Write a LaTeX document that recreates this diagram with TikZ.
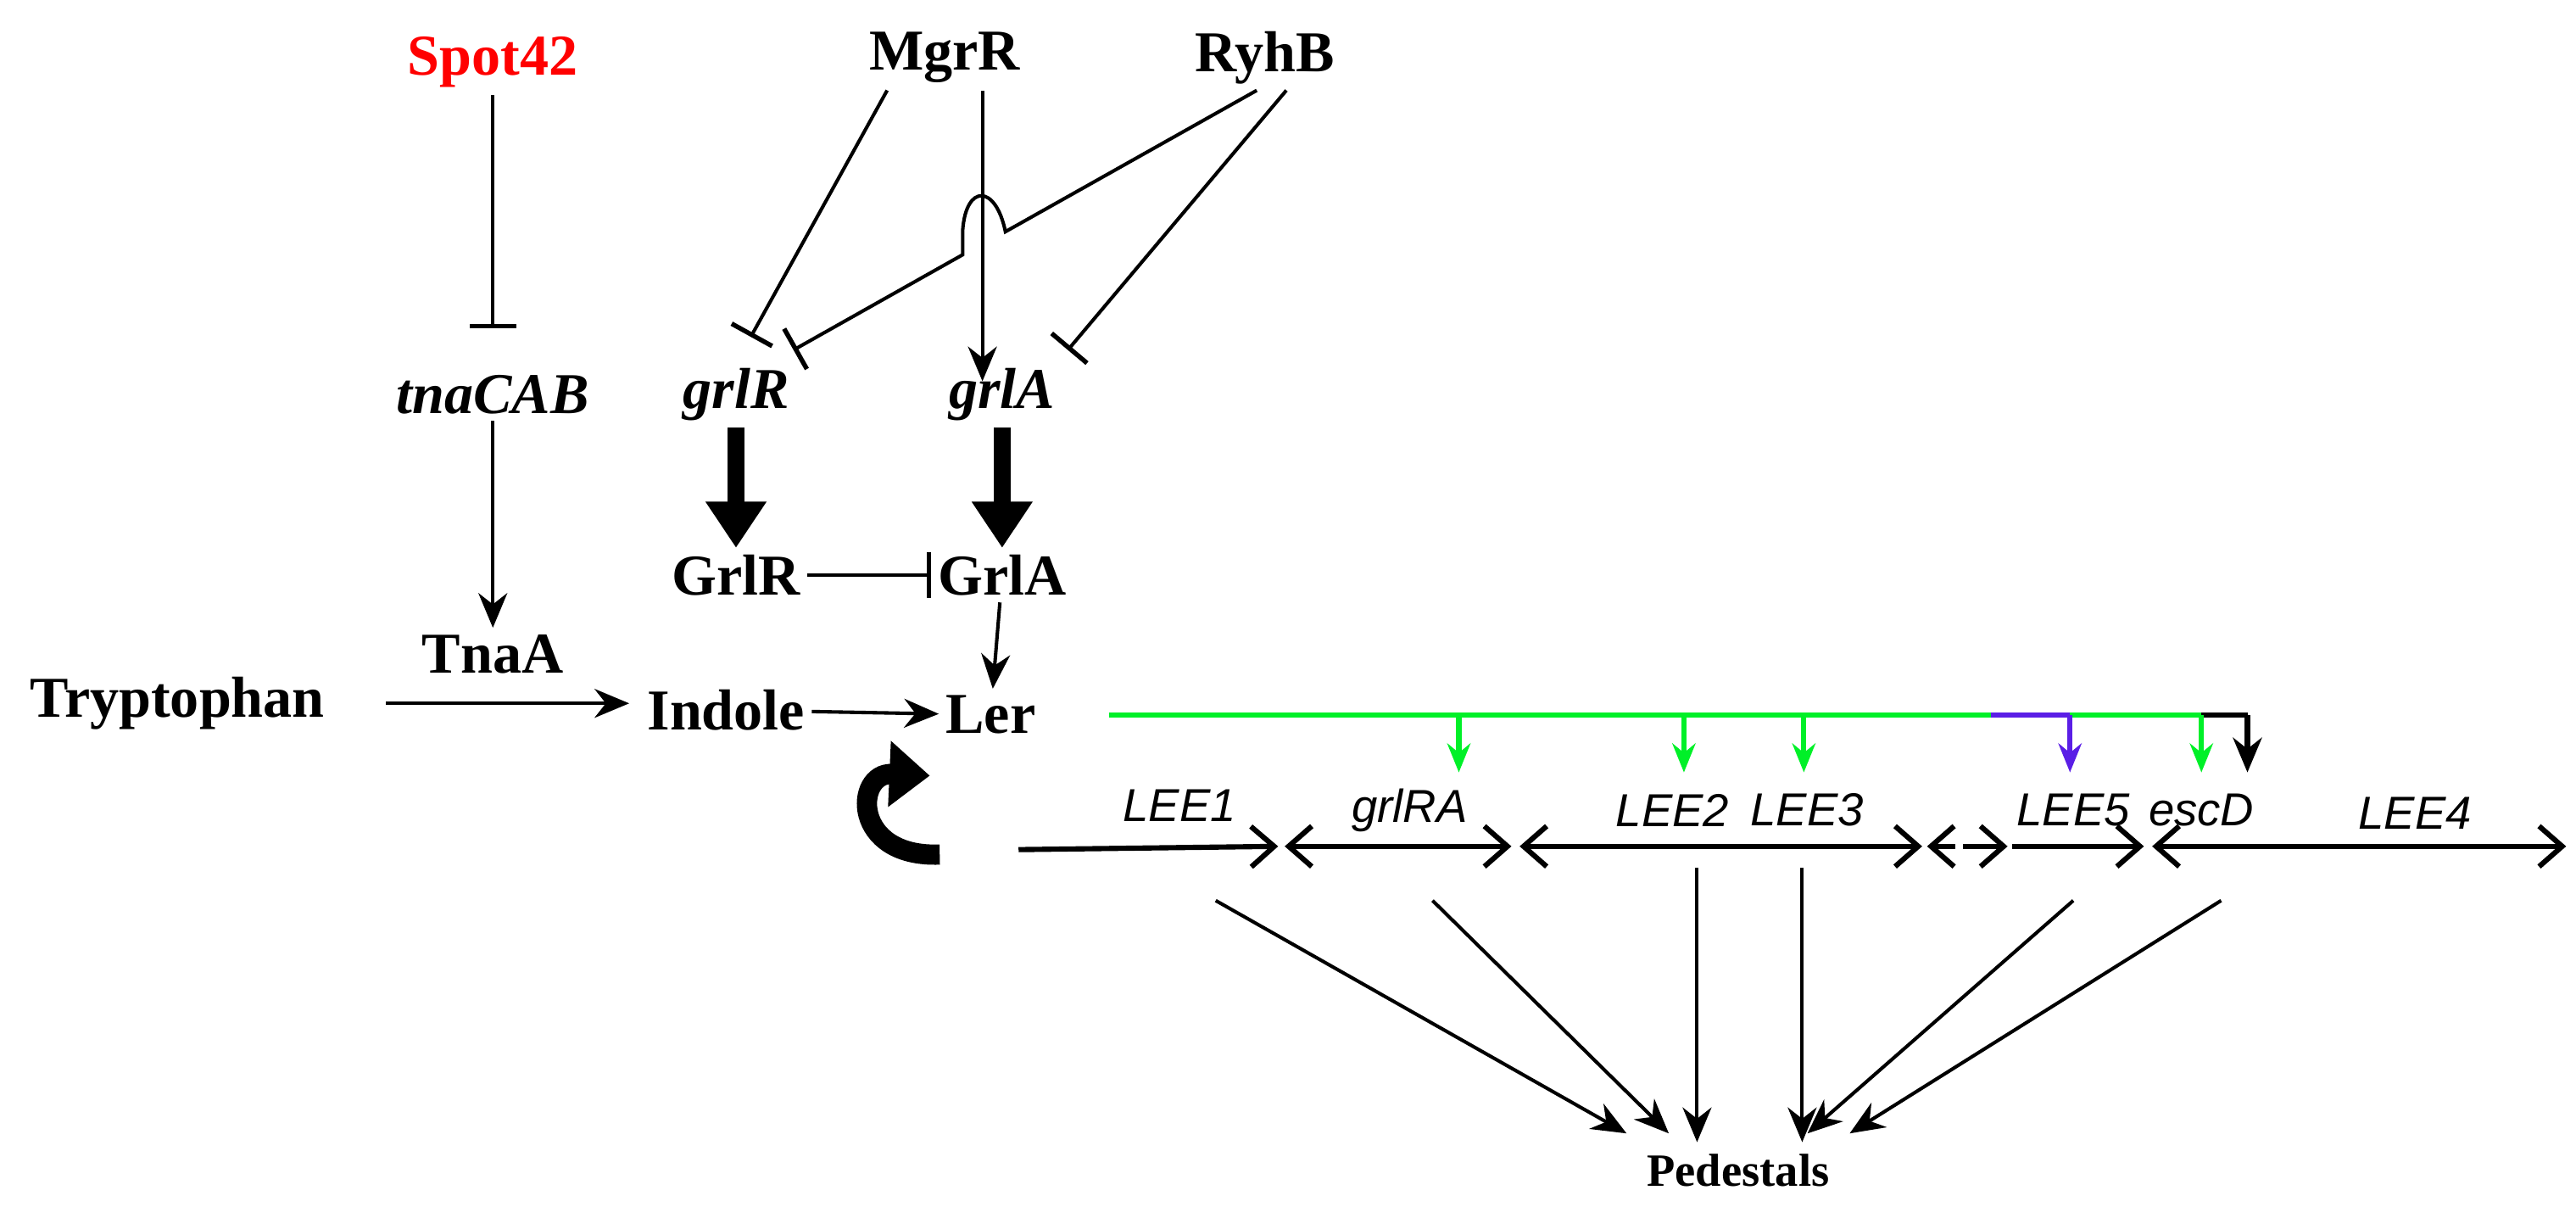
\documentclass[tikz,border=0pt]{standalone}
\usepackage{fontspec}
\setmainfont{Liberation Serif}
\newfontfamily\genefont{Liberation Sans}
\usetikzlibrary{arrows.meta}
\tikzset{
  lbl/.style={font=\fontsize{10}{12}\selectfont\bfseries, inner sep=1pt},
  gene/.style={font=\fontsize{10}{12}\selectfont\bfseries\itshape, inner sep=1pt},
  lee/.style={font=\genefont\fontsize{8}{10}\selectfont\itshape, inner sep=1pt},
  act/.style={line width=0.6pt, -{Stealth[length=6pt,width=5pt]}},
  inh/.style={line width=0.6pt, -{Bar[width=8pt,line width=0.8pt]}},
  fat/.style={line width=3pt, -{Triangle[length=8pt,width=10pt]}},
  seg/.style={line width=0.9pt},
  tip/.tip={Straight Barb[length=4pt,width=7pt]},
  grn/.style={draw={rgb,255:red,0;green,240;blue,40}, line width=0.9pt},
  gact/.style={grn, -{Stealth[length=5pt,width=4pt]}}
}
\begin{document}
\begin{tikzpicture}[x=0.01cm,y=-0.01cm]
\useasboundingbox (0,0) rectangle (1568,734);
% regulators
\node[lbl, text=red] (spot) at (300,38) {Spot42};
\node[lbl] (mgrr) at (575,35) {MgrR};
\node[lbl] (ryhb) at (770,35) {RyhB};
\node[gene] (tnacab) at (300,240) {tnaCAB};
\node[gene] (grlr) at (448,240) {grlR};
\node[gene] (grla) at (610,240) {grlA};
\node[lbl] (GrlR) at (448,350) {GrlR};
\node[lbl] (GrlA) at (610,350) {GrlA};
\node[lbl] (tnaa) at (300,398) {TnaA};
\node[lbl] (trp) at (108,428) {Tryptophan};
\node[lbl] (ind) at (442,432) {Indole};
\node[lbl] (ler) at (603,435) {Ler};
\node[font=\fontsize{8}{10}\selectfont\bfseries] (ped) at (1058,712) {Pedestals};

\coordinate (s1) at (300,200);
\draw[inh] (spot) -- (s1);
\coordinate (m1) at (540,55); \coordinate (m2) at (457,205);
\draw[inh] (m1) -- (m2);
\coordinate (m3) at (598,55); \coordinate (m4) at (598,232);
\draw[act] (m3) -- (m4);
\coordinate (r1) at (765,55); \coordinate (r2) at (483,213);
\draw[inh] (r1) -- (612,141) .. controls (606,112) and (588,112) .. (586,140) -- (586,155) -- (r2);
\coordinate (r3) at (783,55); \coordinate (r4) at (650,213);
\draw[inh] (r3) -- (r4);

\draw[fat] (grlr) -- (GrlR);
\draw[fat] (grla) -- (GrlA);
\draw[inh] (GrlR) -- (GrlA);
\draw[act] (tnacab) -- (tnaa.north);
\coordinate (t1) at (235,428); \coordinate (t2) at (383,428);
\draw[act] (t1) -- (t2);
\draw[act] (ind) -- (ler);
\draw[act] (GrlA) -- (ler);

% curved arrow
\coordinate (c1) at (572,520); \coordinate (c2) at (566,472);
\draw[line width=3.5pt, -{Triangle[length=7pt,width=11pt]}] (c1) .. controls (518,522) and (520,470) .. (c2);

% Ler regulation lines
\coordinate (g0) at (675,435);
\coordinate (g1) at (1340,435);
\draw[grn] (g0) -- (g1);
\draw[line width=0.9pt] (g1) -- (1368,435);
\draw[act, line width=0.9pt] (1368,435) -- (1368,470);
\draw[draw={rgb,255:red,90;green,30;blue,230}, line width=0.9pt] (1212,435) -- (1260,435);
\draw[draw={rgb,255:red,90;green,30;blue,230}, line width=0.9pt, -{Stealth[length=5pt,width=4pt]}] (1260,435) -- (1260,470);
\foreach \x in {888,1025,1098,1340} \draw[gact] (\x,435) -- (\x,470);

% operons
\draw[seg, -{tip}] (620,517) -- (778,515);
\draw[seg, {tip}-{tip}] (782,515) -- (920,515);
\draw[seg, {tip}-{tip}] (925,515) -- (1170,515);
\draw[seg, {tip}-] (1173,515) -- (1190,515);
\draw[seg, -{tip}] (1195,515) -- (1222,515);
\draw[seg, -{tip}] (1225,515) -- (1305,515);
\draw[seg, {tip}-{tip}] (1310,515) -- (1562,515);

\node[lee] (l1) at (718,490) {LEE1};
\node[lee] (l2) at (858,493) {grlRA};
\node[lee] (l3) at (1018,493) {LEE2};
\node[lee] (l4) at (1100,493) {LEE3};
\node[lee] (l5) at (1262,493) {LEE5};
\node[lee] (l6) at (1340,493) {escD};
\node[lee] (l7) at (1470,495) {LEE4};

% to pedestals
\coordinate (p1) at (740,548); \coordinate (p2) at (872,548);
\coordinate (p3) at (1033,528); \coordinate (p4) at (1097,528);
\coordinate (p5) at (1262,548); \coordinate (p6) at (1352,548);
\draw[act] (p1) -- (ped.north west);
\draw[act] (p2) -- ([xshift=-12]ped.north);
\draw[act] (p3) -- (1033,695);
\draw[act] (p4) -- (1097,695);
\draw[act] (p5) -- ([xshift=12]ped.north);
\draw[act] (p6) -- (ped.north east);
\end{tikzpicture}
\end{document}
